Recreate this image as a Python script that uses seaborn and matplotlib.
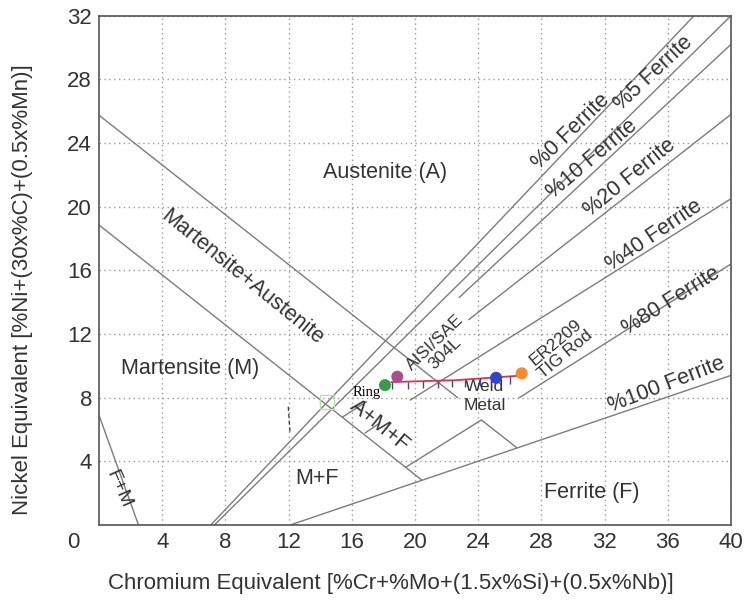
import numpy as np
import pandas as pd
import matplotlib
matplotlib.use('Agg')
import matplotlib.pyplot as plt
import seaborn as sns

# Schaeffler diagram boundaries (Cr eq, Ni eq)
ferrite0_cr = [7.07, 37.66]
ferrite0_ni = [0.0, 32.0]
ferrite5_cr = [7.3, 40.0]
ferrite5_ni = [0.0, 32.0]
ferrite10_cr = [22.8, 40.0]
ferrite10_ni = [14.3, 30.2]
ferrite20_cr = [23.4, 40.0]
ferrite20_ni = [12.9, 25.8]
ferrite40_cr = [19.7, 40.0]
ferrite40_ni = [7.85, 20.5]
ferrite80_cr = [26.6, 40.0]
ferrite80_ni = [8.0, 16.4]
ferrite100_cr = [12.1, 40.0]
ferrite100_ni = [0.0, 9.4]
aust_mart_cr = [0.0, 22.7]
aust_mart_ni = [25.75, 8.0]
mart_cr = [0.0, 20.42]
mart_ni = [18.85, 2.83]
peak_cr = [19.4, 24.2, 26.45]
peak_ni = [3.62, 6.6, 4.85]
fm_cr = [0.0, 2.5]
fm_ni = [6.9, 0.0]
stub1_cr = [15.44, 16.94]
stub1_ni = [6.8, 7.75]
stub2_cr = [16.84, 17.78]
stub2_ni = [5.78, 6.41]

# weld metal dilution line
weld_cr = [18.5, 22.6, 26.6]
weld_ni = [8.98, 9.1, 9.38]
weld_tick_cr = [18.53, 19.58, 20.53, 21.47, 22.32, 23.16, 24.1, 25.06, 26.0]

# measured materials
mat_names = ['Ring', 'AISI/SAE 304L', 'Weld Metal', 'ER2209 TIG Rod']
mat_cr = [18.1, 18.88, 25.13, 26.75]
mat_ni = [8.79, 9.32, 9.25, 9.53]
mat_colors = ['#3a9a4a', '#a8508e', '#3344cc', '#f58a30']

xticks = [4, 8, 12, 16, 20, 24, 28, 32, 36, 40]
yticks = [4, 8, 12, 16, 20, 24, 28, 32]

lines = {
    'f0': (ferrite0_cr, ferrite0_ni), 'f5': (ferrite5_cr, ferrite5_ni),
    'f10': (ferrite10_cr, ferrite10_ni), 'f20': (ferrite20_cr, ferrite20_ni),
    'f40': (ferrite40_cr, ferrite40_ni), 'f80': (ferrite80_cr, ferrite80_ni),
    'f100': (ferrite100_cr, ferrite100_ni), 'am': (aust_mart_cr, aust_mart_ni),
    'm': (mart_cr, mart_ni), 'peak': (peak_cr, peak_ni), 'fm': (fm_cr, fm_ni),
    's1': (stub1_cr, stub1_ni), 's2': (stub2_cr, stub2_ni),
}
df = pd.concat([pd.DataFrame({'cr': c, 'ni': n, 'line': k, 'order': range(len(c))})
                for k, (c, n) in lines.items()], ignore_index=True)
pts = pd.DataFrame({'cr': mat_cr, 'ni': mat_ni, 'name': mat_names})

sns.set_theme(style='white')
plt.rcParams['font.family'] = ['Liberation Sans', 'DejaVu Sans']

fig = plt.figure(figsize=(7.53, 6.01), dpi=100)
ax = fig.add_axes([99/753, 1-525/601, 632/753, 509.3/601])

sns.lineplot(data=df, x='cr', y='ni', units='line', estimator=None, sort=False,
             color='#7c7c7c', lw=1.0, ax=ax, legend=False)

ax.plot(weld_cr, weld_ni, color='#d8344a', lw=1.3, zorder=4)
tick_top = np.interp(weld_tick_cr, weld_cr, weld_ni)
ax.vlines(weld_tick_cr, tick_top - 0.45, tick_top, color='#45458a', lw=1.0, zorder=4)
sns.scatterplot(data=pts, x='cr', y='ni', hue='name', palette=dict(zip(mat_names, mat_colors)),
                s=75, edgecolor='none', legend=False, zorder=5, ax=ax)

# small marks left over in the source picture
ax.plot([11.98, 12.09], [7.43, 5.78], color='#444444', lw=1.0, ls=(0, (3, 2)))
ax.plot([14.43], [7.73], marker='s', ms=10, mfc='none', mec='#b8e0b0', mew=1.0)

ax.set_xlim(0, 40)
ax.set_ylim(0, 32)
ax.set_xticks(xticks)
ax.set_yticks(yticks)
ax.tick_params(length=0, labelsize=16, labelcolor='#333333', pad=5)
ax.grid(True, ls=(0, (1, 2.5)), color='#999999', lw=1.0)
for sp in ax.spines.values():
    sp.set_color('#555555')
    sp.set_linewidth(1.2)
ax.set_xlabel('')
ax.set_ylabel('')
ax.text(-1.6, -1.07, '0', fontsize=16, color='#333333', ha='center', va='center', clip_on=False)

txt = dict(color='#333333', ha='center', va='center')
ax.text(18.1, 22.17, 'Austenite (A)', fontsize=15.5, **txt)
ax.text(9.05, 15.58, 'Martensite+Austenite', fontsize=15.5, rotation=-39, **txt)
ax.text(5.76, 9.86, 'Martensite (M)', fontsize=15.5, **txt)
ax.text(17.8, 6.2, 'A+M+F', fontsize=15.5, rotation=-39, **txt)
ax.text(13.8, 2.95, 'M+F', fontsize=15.5, **txt)
ax.text(31.2, 2.07, 'Ferrite (F)', fontsize=15.5, **txt)
ax.text(1.25, 2.25, 'F+M', fontsize=14, rotation=-66, **txt)
ax.text(29.87, 24.75, '%0 Ferrite', fontsize=15.5, rotation=44, **txt)
ax.text(35.1, 28.4, '%5 Ferrite', fontsize=15.5, rotation=43, **txt)
ax.text(31.2, 23.0, '%10 Ferrite', fontsize=15.5, rotation=40, **txt)
ax.text(33.6, 21.8, '%20 Ferrite', fontsize=15.5, rotation=39, **txt)
ax.text(35.1, 18.2, '%40 Ferrite', fontsize=15.5, rotation=34, **txt)
ax.text(36.2, 14.1, '%80 Ferrite', fontsize=15.5, rotation=32, **txt)
ax.text(35.9, 8.8, '%100 Ferrite', fontsize=15.5, rotation=21, **txt)
ax.text(21.6, 11.15, 'AISI/SAE\n304L', fontsize=12.5, rotation=44, linespacing=1.0, **txt)
ax.text(29.2, 11.1, 'ER2209\nTIG Rod', fontsize=12.5, rotation=40, linespacing=1.0, **txt)
ax.text(24.4, 8.1, 'Weld\nMetal', fontsize=12.5, linespacing=1.3, **txt)
ax.text(16.95, 8.3, 'Ring', fontsize=10.5, family=['Liberation Serif', 'DejaVu Serif'],
        color='black', ha='center', va='center')

fig.text(391/753, 1-583/601, 'Chromium Equivalent [%Cr+%Mo+(1.5x%Si)+(0.5x%Nb)]',
         fontsize=16, color='#333333', ha='center', va='center')
fig.text(23/753, 1-290/601, 'Nickel Equivalent [%Ni+(30x%C)+(0.5x%Mn)]',
         fontsize=16, color='#333333', ha='center', va='center', rotation=90)

fig.savefig('out.png', dpi=100)
